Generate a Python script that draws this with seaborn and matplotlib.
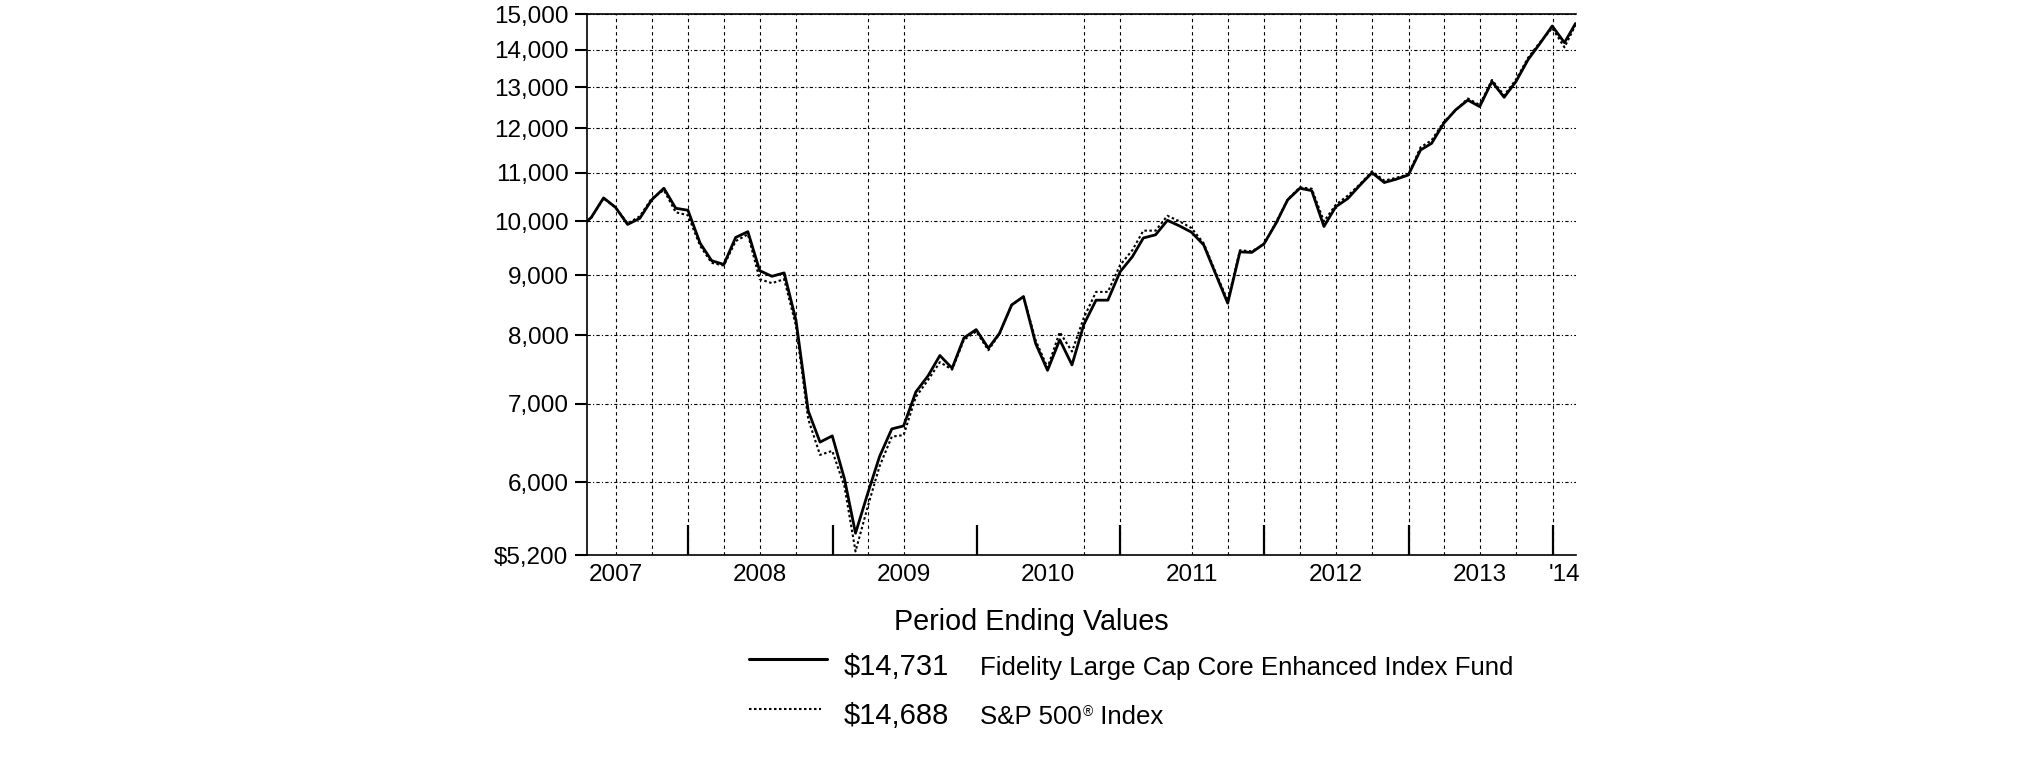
import pandas as pd
import matplotlib
matplotlib.use("Agg")
import matplotlib.pyplot as plt
from matplotlib.lines import Line2D
from matplotlib.ticker import NullLocator
import seaborn as sns

# -------------------------------
# Data (month ends)
# -------------------------------
start_date = pd.Timestamp("2007-04-19")
period_dates = [start_date] + list(pd.date_range("2007-04-30", "2014-02-28", freq="ME"))

fund_values = [
    10000,
    10080, 10470, 10280, 9940, 10060, 10430, 10670, 10260, 10220,                  # 2007
    9580, 9260, 9190, 9690, 9800, 9080, 8980, 9040, 8240, 6900, 6490, 6570,        # 2008
    6040, 5430, 5870, 6310, 6660, 6700, 7160, 7390, 7690, 7500, 7960, 8090,        # 2009
    7800, 8030, 8490, 8630, 7870, 7470, 7930, 7550, 8170, 8570, 8570, 9060,        # 2010
    9330, 9680, 9740, 10020, 9910, 9790, 9550, 9010, 8520, 9420, 9410, 9570,       # 2011
    9970, 10430, 10670, 10620, 9900, 10290, 10460, 10740, 11000, 10790, 10860, 10950,  # 2012
    11500, 11650, 12120, 12440, 12680, 12520, 13150, 12750, 13150, 13730, 14170, 14660,  # 2013
    14190, 14731,                                                                  # 2014
]

sp500_values = [
    10000,
    10070, 10460, 10280, 9960, 10100, 10460, 10630, 10180, 10120,
    9530, 9220, 9170, 9620, 9750, 8930, 8860, 8930, 8150, 6790, 6330, 6380,
    5950, 5240, 5720, 6190, 6560, 6580, 7090, 7330, 7590, 7480, 7930, 8060,
    7770, 8020, 8490, 8630, 7920, 7510, 8050, 7750, 8280, 8710, 8710, 9180,
    9450, 9820, 9820, 10110, 10000, 9870, 9580, 9040, 8560, 9450, 9430, 9560,
    9990, 10440, 10690, 10660, 10000, 10330, 10520, 10760, 11030, 10830, 10890, 10960,
    11560, 11720, 12150, 12430, 12720, 12560, 13190, 12800, 13200, 13780, 14200, 14600,
    14060, 14688,
]

y_ticks = [5200, 6000, 7000, 8000, 9000, 10000, 11000, 12000, 13000, 14000, 15000]
y_tick_labels = ["$5,200", "6,000", "7,000", "8,000", "9,000", "10,000",
                 "11,000", "12,000", "13,000", "14,000", "15,000"]

year_ticks = pd.to_datetime(["2008-01-01", "2009-01-01", "2010-01-01", "2011-01-01",
                             "2012-01-01", "2013-01-01", "2014-01-01"])
year_label_pos = pd.to_datetime(["2007-07-01", "2008-07-01", "2009-07-01", "2010-07-01",
                                 "2011-07-01", "2012-07-01", "2013-07-01", "2014-02-01"])
year_labels = ["2007", "2008", "2009", "2010", "2011", "2012", "2013", "'14"]

# quarterly grid lines that show in the chart
grid_dates = pd.to_datetime([
    "2007-07-01", "2007-10-01", "2008-01-01", "2008-04-01", "2008-07-01", "2008-10-01",
    "2009-04-01", "2009-07-01", "2010-10-01", "2011-01-01", "2011-07-01", "2011-10-01",
    "2012-01-01", "2012-04-01", "2012-07-01", "2012-10-01", "2013-01-01", "2013-04-01",
    "2013-07-01", "2013-10-01", "2014-01-01",
])

fund_name = "Fidelity Large Cap Core Enhanced Index Fund"
fund_end = "$14,731"
index_end = "$14,688"

# -------------------------------
# Plot
# -------------------------------
sns.set_style("white")
plt.rcParams["font.family"] = ["Liberation Sans", "DejaVu Sans"]
plt.rcParams["text.color"] = "black"
plt.rcParams["xtick.color"] = "black"
plt.rcParams["ytick.color"] = "black"
plt.rcParams["axes.labelcolor"] = "black"

W, H = 2025, 761
fig = plt.figure(figsize=(W / 100, H / 100), dpi=100)
ax = fig.add_axes([587 / W, 1 - 555.3 / H, (1575.5 - 587) / W, (555.3 - 14.3) / H])

sns.lineplot(x=period_dates, y=fund_values, ax=ax, color="black",
             linewidth=2.0, estimator=None, zorder=3)
sns.lineplot(x=period_dates, y=sp500_values, ax=ax, color="black",
             linewidth=1.5, linestyle=(0, (1.2, 1.2)), estimator=None, zorder=4)

ax.set_yscale("log")
ax.set_ylim(5200, 15000)
ax.set_yticks(y_ticks, labels=y_tick_labels)
ax.yaxis.set_minor_locator(NullLocator())

ax.set_xlim(start_date, pd.Timestamp("2014-02-28"))
ax.set_xticks(year_ticks, labels=[""] * len(year_ticks))
ax.set_xticks(year_label_pos, labels=year_labels, minor=True)

ax.tick_params(axis="x", which="major", direction="in", length=21.6, width=1.6,
               color="black", labelbottom=False, bottom=True)
ax.tick_params(axis="x", which="minor", length=0, pad=6, labelsize=17.5,
               labelcolor="black")
ax.tick_params(axis="y", which="major", direction="out", length=8.6, width=1.5,
               color="black", pad=4.8, labelsize=17.5, left=True, labelcolor="black")

ax.grid(axis="y", which="major", color="black", linewidth=0.8,
        linestyle=(0, (3, 2, 1, 2)))
for d in grid_dates:
    ax.axvline(d, color="black", linewidth=0.8, linestyle=(0, (3, 3)), zorder=1)
ax.set_axisbelow(True)

for side in ["top", "left", "bottom"]:
    ax.spines[side].set_color("black")
    ax.spines[side].set_linewidth(1.2)
ax.spines["right"].set_visible(False)
ax.set_xlabel("")
ax.set_ylabel("")

# -------------------------------
# Legend block
# -------------------------------
def fx(px):
    return px / W

def fy(py):
    return 1 - py / H

fig.text(fx(1031), fy(630), "Period Ending Values", fontsize=20.7,
         ha="center", va="baseline", color="black")

fig.add_artist(Line2D([fx(749), fx(827)], [fy(659), fy(659)], color="black",
                      linewidth=2.2, transform=fig.transFigure))
fig.text(fx(844), fy(675), fund_end, fontsize=21, va="baseline", color="black")
fig.text(fx(980), fy(675), fund_name, fontsize=18.6, va="baseline", color="black")

fig.add_artist(Line2D([fx(749), fx(821)], [fy(709), fy(709)], color="black",
                      linewidth=1.5, linestyle=(0, (1.2, 1.2)), transform=fig.transFigure))
fig.text(fx(844), fy(724), index_end, fontsize=21, va="baseline", color="black")

renderer = fig.canvas.get_renderer()
t1 = fig.text(fx(980), fy(724), "S&P 500", fontsize=18.6, va="baseline", color="black")
x_end = t1.get_window_extent(renderer=renderer).x1
t2 = fig.text(x_end / W + 0.0003, fy(724 - 8), "\u00ae", fontsize=10,
              va="baseline", color="black")
x_end = t2.get_window_extent(renderer=renderer).x1
fig.text(x_end / W, fy(724), " Index", fontsize=18.6, va="baseline", color="black")

fig.savefig("out.png", dpi=100)
print("Saved out.png")
